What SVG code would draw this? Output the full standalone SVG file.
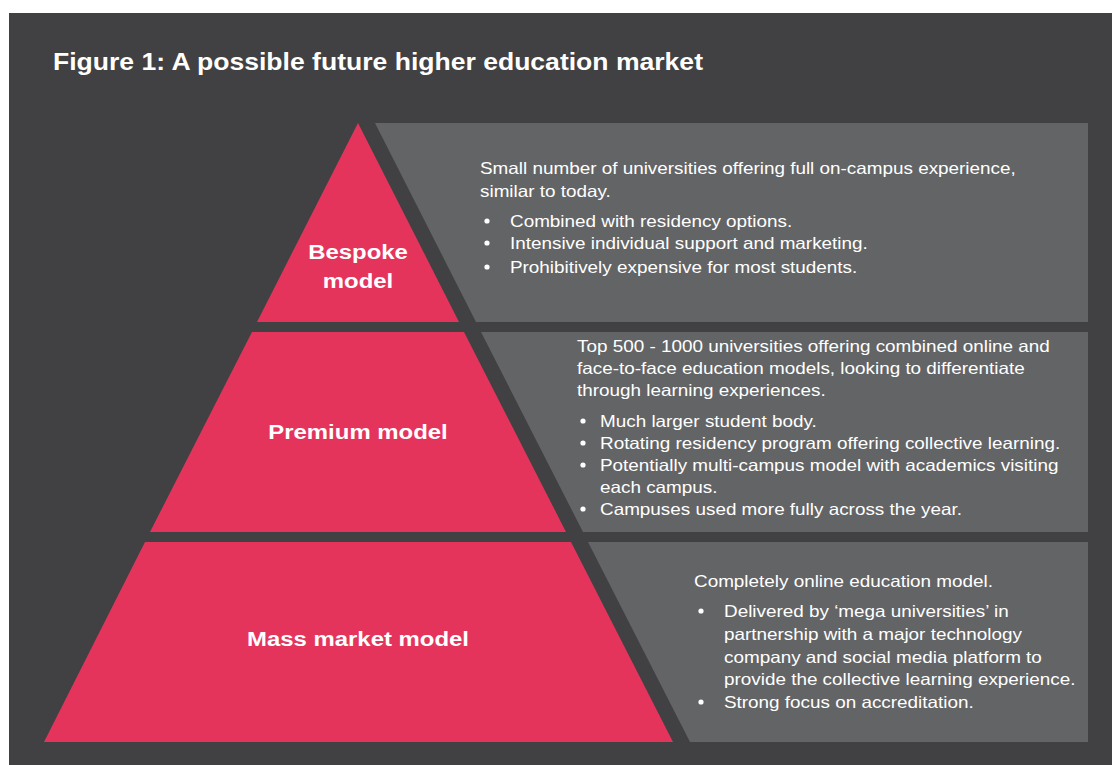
<svg xmlns="http://www.w3.org/2000/svg" width="1112" height="765" viewBox="0 0 1112 765">
  <style>
    .bg { fill: #414042; }
    .tier { fill: #e5345c; }
    .panel { fill: #636466; }
    .title { font-family: "Liberation Sans", Arial, sans-serif; font-weight: bold; font-size: 23px; fill: #ffffff; }
    .label { font-family: "Liberation Sans", Arial, sans-serif; font-weight: bold; font-size: 21px; fill: #ffffff; text-anchor: middle; }
    .body { font-family: "Liberation Sans", Arial, sans-serif; font-size: 16.5px; fill: #ffffff; }
    .dot { fill: #ffffff; }
  </style>

  <rect x="0" y="0" width="1112" height="765" fill="#ffffff"/>
  <rect class="bg" x="9" y="13" width="1103" height="752"/>

  <text class="title" transform="translate(53,70) scale(1.155,1)">Figure 1: A possible future higher education market</text>

  <!-- Top tier -->
  <g id="bespoke">
    <polygon class="tier" points="358,123 459,322 257,322"/>
    <polygon class="panel" points="375,123 1088,123 1088,322 476,322"/>
    <text class="label" transform="translate(358,259) scale(1.14,1)">Bespoke</text>
    <text class="label" transform="translate(358,288) scale(1.14,1)">model</text>
    <g class="body">
      <text transform="translate(480,174) scale(1.145,1)">Small number of universities offering full on-campus experience,</text>
      <text transform="translate(480,197) scale(1.145,1)">similar to today.</text>
      <circle class="dot" cx="487" cy="221" r="2.6"/>
      <text transform="translate(510,227) scale(1.145,1)">Combined with residency options.</text>
      <circle class="dot" cx="487" cy="243" r="2.6"/>
      <text transform="translate(510,249) scale(1.145,1)">Intensive individual support and marketing.</text>
      <circle class="dot" cx="487" cy="267" r="2.6"/>
      <text transform="translate(510,273) scale(1.145,1)">Prohibitively expensive for most students.</text>
    </g>
  </g>

  <!-- Middle tier -->
  <g id="premium">
    <polygon class="tier" points="252,332 464,332 566,532 150,532"/>
    <polygon class="panel" points="481,332 1088,332 1088,532 583,532"/>
    <text class="label" transform="translate(358,439) scale(1.14,1)">Premium model</text>
    <g class="body">
      <text transform="translate(577,352) scale(1.145,1)">Top 500 - 1000 universities offering combined online and</text>
      <text transform="translate(577,374) scale(1.145,1)">face-to-face education models, looking to differentiate</text>
      <text transform="translate(577,396) scale(1.145,1)">through learning experiences.</text>
      <circle class="dot" cx="583" cy="421" r="2.6"/>
      <text transform="translate(600,427) scale(1.145,1)">Much larger student body.</text>
      <circle class="dot" cx="583" cy="443" r="2.6"/>
      <text transform="translate(600,449) scale(1.145,1)">Rotating residency program offering collective learning.</text>
      <circle class="dot" cx="583" cy="465" r="2.6"/>
      <text transform="translate(600,471) scale(1.145,1)">Potentially multi-campus model with academics visiting</text>
      <text transform="translate(600,493) scale(1.145,1)">each campus.</text>
      <circle class="dot" cx="583" cy="509" r="2.6"/>
      <text transform="translate(600,515) scale(1.145,1)">Campuses used more fully across the year.</text>
    </g>
  </g>

  <!-- Bottom tier -->
  <g id="mass-market">
    <polygon class="tier" points="145,542 571,542 673,742 44,742"/>
    <polygon class="panel" points="588,542 1088,542 1088,742 690,742"/>
    <text class="label" transform="translate(358,646) scale(1.14,1)">Mass market model</text>
    <g class="body">
      <text transform="translate(694,587) scale(1.145,1)">Completely online education model.</text>
      <circle class="dot" cx="701" cy="611" r="2.6"/>
      <text transform="translate(724,617) scale(1.145,1)">Delivered by ‘mega universities’ in</text>
      <text transform="translate(724,640) scale(1.145,1)">partnership with a major technology</text>
      <text transform="translate(724,663) scale(1.145,1)">company and social media platform to</text>
      <text transform="translate(724,685) scale(1.145,1)">provide the collective learning experience.</text>
      <circle class="dot" cx="701" cy="702" r="2.6"/>
      <text transform="translate(724,708) scale(1.145,1)">Strong focus on accreditation.</text>
    </g>
  </g>

  <!-- No connectors in this figure -->
  <g id="connectors"/>
</svg>
